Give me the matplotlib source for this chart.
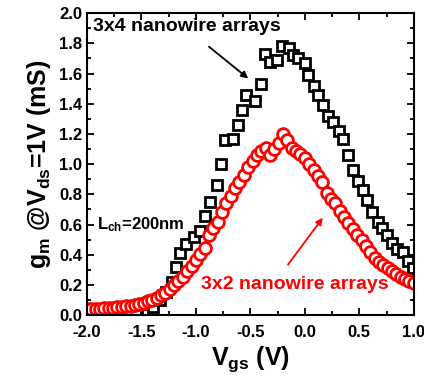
import matplotlib
matplotlib.use('Agg')
import matplotlib.pyplot as plt
from matplotlib.ticker import MultipleLocator

plt.rcParams['font.family'] = ['Liberation Sans', 'DejaVu Sans']
plt.rcParams['font.weight'] = 'bold'
plt.rcParams['axes.unicode_minus'] = False
plt.rcParams['mathtext.fontset'] = 'custom'
plt.rcParams['mathtext.rm'] = 'Liberation Sans:bold'
plt.rcParams['mathtext.it'] = 'Liberation Sans:bold'
plt.rcParams['mathtext.bf'] = 'Liberation Sans:bold'

# 3x4 nanowire arrays (black squares)
vgs_3x4 = [-1.45, -1.39, -1.33, -1.27, -1.22, -1.18, -1.15, -1.09, -1.02, -0.96,
           -0.92, -0.87, -0.81, -0.77, -0.73, -0.66, -0.61, -0.58, -0.54, -0.46,
           -0.40, -0.37, -0.32, -0.26, -0.21, -0.15, -0.11, -0.06, 0.00, 0.03,
           0.08, 0.12, 0.17, 0.21, 0.26, 0.31, 0.35, 0.40, 0.44, 0.49,
           0.53, 0.57, 0.62, 0.67, 0.71, 0.75, 0.80, 0.85, 0.90, 0.95, 0.99]
gm_3x4 = [0.01, 0.055, 0.10, 0.155, 0.22, 0.32, 0.41, 0.47, 0.52, 0.56,
          0.66, 0.75, 0.86, 1.00, 1.16, 1.17, 1.26, 1.36, 1.46, 1.42,
          1.53, 1.73, 1.68, 1.69, 1.78, 1.77, 1.72, 1.70, 1.67, 1.59,
          1.52, 1.46, 1.39, 1.32, 1.28, 1.22, 1.17, 1.06, 0.96, 0.89,
          0.83, 0.76, 0.68, 0.62, 0.58, 0.53, 0.48, 0.44, 0.42, 0.36, 0.31]

# 3x2 nanowire arrays (red circles)
vgs_3x2 = [-2.00, -1.96, -1.92, -1.88, -1.84, -1.80, -1.76, -1.72, -1.68, -1.64,
           -1.60, -1.56, -1.52, -1.48, -1.44, -1.40, -1.36, -1.32, -1.28, -1.24,
           -1.20, -1.16, -1.12, -1.08, -1.04, -1.00, -0.96, -0.92, -0.88, -0.84,
           -0.80, -0.76, -0.72, -0.68, -0.64, -0.60, -0.56, -0.52, -0.48, -0.44,
           -0.40, -0.36, -0.32, -0.28, -0.24, -0.20, -0.16, -0.12, -0.08, -0.04,
           0.00, 0.04, 0.08, 0.12, 0.16, 0.20, 0.24, 0.28, 0.32, 0.36,
           0.40, 0.44, 0.48, 0.52, 0.56, 0.60, 0.64, 0.68, 0.72, 0.76,
           0.80, 0.84, 0.88, 0.92, 0.96, 1.00]
gm_3x2 = [0.040, 0.041, 0.042, 0.044, 0.046, 0.048, 0.050, 0.053, 0.056, 0.060,
          0.064, 0.070, 0.076, 0.083, 0.092, 0.103, 0.116, 0.132, 0.150, 0.172,
          0.197, 0.225, 0.256, 0.290, 0.326, 0.365, 0.405, 0.446, 0.530, 0.580,
          0.620, 0.680, 0.740, 0.790, 0.840, 0.880, 0.930, 0.980, 1.020, 1.060,
          1.090, 1.110, 1.060, 1.100, 1.140, 1.200, 1.160, 1.110, 1.090, 1.070,
          1.040, 1.000, 0.960, 0.920, 0.880, 0.810, 0.770, 0.740, 0.690, 0.650,
          0.610, 0.570, 0.530, 0.500, 0.460, 0.420, 0.380, 0.350, 0.330, 0.310,
          0.290, 0.270, 0.250, 0.240, 0.225, 0.210]

fig = plt.figure(figsize=(4.24, 3.77), dpi=100)
ax = fig.add_axes([0.205, 0.164, 0.771, 0.801])

ax.plot(vgs_3x4, gm_3x4, linestyle='none', marker='s', markersize=7.5,
        markerfacecolor='white', markeredgecolor='black', markeredgewidth=2.0)
ax.plot(vgs_3x2, gm_3x2, linestyle='none', marker='o', markersize=8.5,
        markerfacecolor='white', markeredgecolor='red', markeredgewidth=2.0)

ax.set_xlim(-2.0, 1.0)
ax.set_ylim(0.0, 2.0)
ax.xaxis.set_major_locator(MultipleLocator(0.5))
ax.xaxis.set_minor_locator(MultipleLocator(0.25))
ax.yaxis.set_major_locator(MultipleLocator(0.2))
ax.yaxis.set_minor_locator(MultipleLocator(0.1))
ax.tick_params(which='both', direction='in', top=True, right=True, width=1.3)
ax.tick_params(which='major', length=5, labelsize=12)
ax.tick_params(axis='x', which='major', pad=7)
ax.tick_params(which='minor', length=3)
for s in ax.spines.values():
    s.set_linewidth(1.5)
for lbl in ax.get_xticklabels() + ax.get_yticklabels():
    lbl.set_fontweight('bold')

ax.set_xlabel(r'V$_{\mathregular{gs}}$ (V)', fontsize=18, fontweight='bold', labelpad=3)
ax.set_ylabel(r'g$_{\mathregular{m}}$ @V$_{\mathregular{ds}}$=1V (mS)', fontsize=18,
              fontweight='bold', labelpad=4)

ax.text(-1.94, 1.91, '3x4 nanowire arrays', fontsize=14, fontweight='bold',
        color='black', va='center', ha='left')
ax.text(-0.95, 0.20, '3x2 nanowire arrays', fontsize=14, fontweight='bold',
        color='red', va='center', ha='left')
ax.text(-1.91, 0.60, r'L$_{\mathregular{ch}}$=200nm', fontsize=12, fontweight='bold',
        color='black', va='center', ha='left')

ax.annotate('', xy=(-0.50, 1.556), xytext=(-0.90, 1.79),
            arrowprops=dict(arrowstyle='-|>', color='black', lw=1.3, mutation_scale=10))
ax.annotate('', xy=(0.18, 0.66), xytext=(-0.17, 0.32),
            arrowprops=dict(arrowstyle='-|>', color='red', lw=1.3, mutation_scale=10))

fig.savefig('out.png', dpi=100)
